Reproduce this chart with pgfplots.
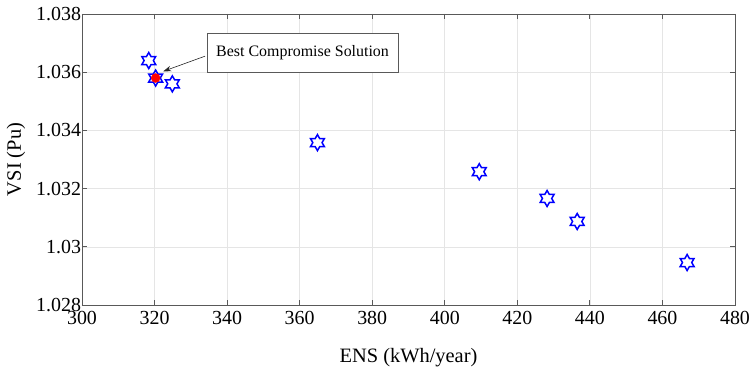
\documentclass[border=0pt]{standalone}
\usepackage{pgfplots}
\pgfplotsset{compat=1.18}
\usepackage{fontspec}
\setmainfont{Liberation Serif}
\usetikzlibrary{arrows.meta,calc}
\pgfdeclareplotmark{hexa}{%
  \pgfpathmoveto{\pgfpointpolar{90}{\pgfplotmarksize}}%
  \pgfpathlineto{\pgfpointpolar{120}{0.577\pgfplotmarksize}}%
  \pgfpathlineto{\pgfpointpolar{150}{\pgfplotmarksize}}%
  \pgfpathlineto{\pgfpointpolar{180}{0.577\pgfplotmarksize}}%
  \pgfpathlineto{\pgfpointpolar{210}{\pgfplotmarksize}}%
  \pgfpathlineto{\pgfpointpolar{240}{0.577\pgfplotmarksize}}%
  \pgfpathlineto{\pgfpointpolar{270}{\pgfplotmarksize}}%
  \pgfpathlineto{\pgfpointpolar{300}{0.577\pgfplotmarksize}}%
  \pgfpathlineto{\pgfpointpolar{330}{\pgfplotmarksize}}%
  \pgfpathlineto{\pgfpointpolar{0}{0.577\pgfplotmarksize}}%
  \pgfpathlineto{\pgfpointpolar{30}{\pgfplotmarksize}}%
  \pgfpathlineto{\pgfpointpolar{60}{0.577\pgfplotmarksize}}%
  \pgfpathclose
  \pgfusepathqstroke}
\begin{document}
\begin{tikzpicture}[x=1bp,y=1bp]
\begin{axis}[
  name=main,
  scale only axis,
  width=653bp, height=291bp,
  xmin=300, xmax=480, ymin=1.028, ymax=1.038,
  xtick={300,320,...,480},
  ytick={1.028,1.030,...,1.038},
  yticklabel style={/pgf/number format/fixed, /pgf/number format/precision=3, xshift=2.5bp},
  /pgf/number format/assume math mode=true,
  tick label style={font=\fontsize{20}{23}\selectfont},
  label style={font=\fontsize{20.5}{24}\selectfont},
  xlabel={ENS (kWh/year)},
  ylabel={VSI (Pu)},
  xlabel style={at={(axis description cs:0.5,-0.182)}, anchor=center},
  ylabel style={at={(axis description cs:-0.101,0.5)}, anchor=center},
  grid=major,
  major grid style={gray!20, line width=0.6pt},
  tick align=inside,
  major tick length=5bp,
  axis line style={gray!70!black, line width=0.8pt},
  every tick/.style={gray!70!black, line width=0.8pt},
  xticklabel style={yshift=-3bp},
  clip=false,
]
\addplot[only marks, mark=hexa, mark size=8bp, draw=blue, line width=1.5pt]
  coordinates {
  (318.4,1.0364) (320.3,1.0358) (324.9,1.0356) (364.9,1.03358)
  (409.5,1.03258) (428.2,1.03166) (436.5,1.03087) (466.8,1.02946)
  };
\addplot[only marks, mark=*, mark size=4.5bp, draw=red, fill=red]
  coordinates {(320.3,1.0358)};
\node[draw=gray!70!black, fill=white, line width=0.6pt, font=\fontsize{16}{19}\selectfont,
      minimum width=191bp, minimum height=39bp, inner sep=2bp]
  (box) at (axis cs:360.8,1.03668) {Best Compromise Solution};
\draw[-{Stealth[length=8bp,width=5.5bp]}, line width=0.6pt, gray!30!black]
  (axis cs:333.9,1.03655) -- (axis cs:322.4,1.03603);
\end{axis}
\pgfresetboundingbox
\path[use as bounding box] ($(main.south west)+(-82bp,-69bp)$) rectangle ($(main.north east)+(21bp,14bp)$);
\end{tikzpicture}
\end{document}
